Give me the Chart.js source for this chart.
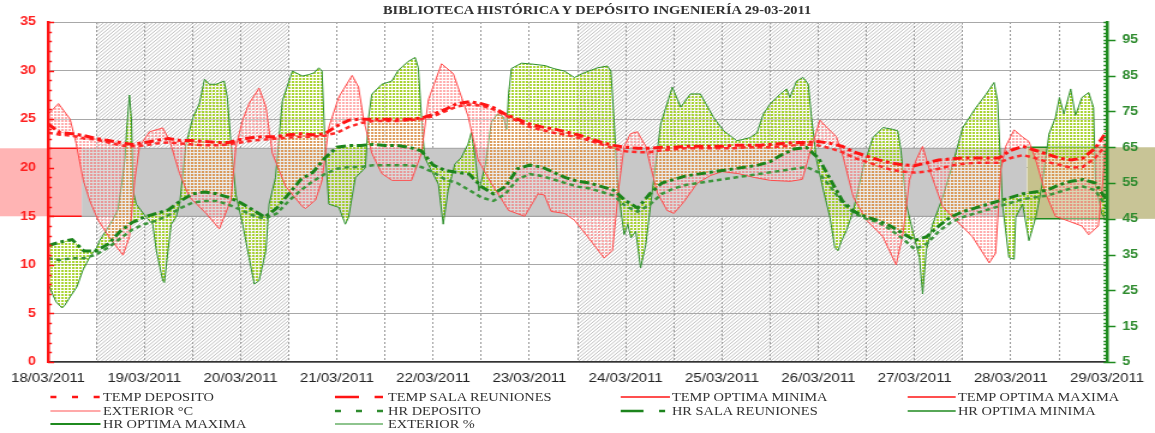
<!DOCTYPE html>
<html><head><meta charset="utf-8">
<script src="https://cdn.jsdelivr.net/npm/chart.js@4.4.1/dist/chart.umd.min.js"></script>
<style>
html,body{margin:0;padding:0;background:#fff;overflow:hidden;width:1155px;height:433px}
#stage{position:absolute;left:0;top:0;width:962px;height:433px;transform:scaleX(1.2006);transform-origin:0 0}
#wrap{position:absolute;left:0;top:0;width:962px;height:433px}
.t{position:absolute;font-family:"Liberation Serif","Times New Roman",serif;color:#333;white-space:nowrap}
#title{font-weight:bold;font-size:12px;line-height:13px;left:319px;top:4px}
.lg{font-size:12px;line-height:14px}
svg.s{position:absolute;overflow:visible}
</style></head><body>
<div id="stage">
  <div id="wrap"><canvas id="c"></canvas></div>
  <div id="title" class="t">BIBLIOTECA HISTÓRICA Y DEPÓSITO INGENIERÍA 29-03-2011</div>
  <div id="legend"></div>
</div>
<script>
// ---------- DATA (hours counted from 18/03/2011 00:00) ----------
const DAY_LABELS = ['18/03/2011','19/03/2011','20/03/2011','21/03/2011','22/03/2011','23/03/2011','24/03/2011','25/03/2011','26/03/2011','27/03/2011','28/03/2011','29/03/2011'];
const X_TICK_HOURS = [0,12,24,36,48,60,72,84,96,108,120,132,144,156,168,180,192,204,216,228,240,252,264];
const Y_RIGHT_TICKS = [5,15,25,35,45,55,65,75,85,95];

const HOURS = [0,3,6,9,12,15,18,21,24,27,30,33,36,39,42,45,48,51,54,57,60,63,66,69,72,75,78,81,84,87,90,93,96,99,102,105,108,111,114,117,120,123,126,129,132,135,138,141,144,147,150,153,156,159,162,165,168,171,174,177,180,183,186,189,192,195,198,201,204,207,210,213,216,219,222,225,228,231,234,237,240,243,246,249,252,255,258,261,264];

const TEMP_SALA = [24.5,23.6,23.5,23.3,23.0,22.8,22.6,22.4,22.6,22.8,23.0,22.8,22.8,22.7,22.6,22.6,22.9,23.1,23.2,23.2,23.4,23.5,23.4,23.5,24.3,24.9,25.0,25.0,25.0,25.0,25.0,25.1,25.5,26.0,26.6,26.8,26.6,26.2,25.5,25.0,24.5,24.2,24.0,23.7,23.4,23.0,22.6,22.3,22.1,22.0,22.0,22.1,22.1,22.2,22.2,22.2,22.2,22.3,22.3,22.3,22.4,22.5,22.6,22.6,22.7,22.5,22.2,21.6,21.2,20.8,20.5,20.3,20.2,20.5,20.8,20.9,21.0,21.0,21.0,21.0,21.8,22.2,21.8,21.4,21.0,20.8,21.0,22.0,23.8];
const TEMP_DEPOSITO = [23.6,23.4,23.3,23.0,22.9,22.6,22.3,22.2,22.3,22.5,22.6,22.5,22.4,22.3,22.3,22.4,22.6,22.8,22.9,23.0,23.1,23.2,23.2,23.3,23.6,24.2,24.6,24.8,24.8,24.8,24.9,25.0,25.3,25.8,26.3,26.5,26.4,26.0,25.4,24.8,24.2,23.9,23.6,23.4,23.1,22.8,22.4,22.0,21.7,21.6,21.6,21.8,21.9,22.0,22.0,22.0,22.0,22.0,22.1,22.1,22.1,22.2,22.3,22.4,22.3,22.0,21.6,21.0,20.6,20.2,19.8,19.6,19.5,19.6,19.9,20.2,20.4,20.5,20.5,20.5,21.0,21.3,21.0,20.6,20.3,20.0,20.1,21.0,22.5];
const HR_SALA = [37.5,38.5,39.2,36,36,38,41.5,44,45.5,46.5,47.5,50,52,52.5,52,51,49.5,47.5,45.5,48,52,56,58,62,65,65.5,65.5,65.8,65.5,65.5,65,64,60,58.5,58,57.5,54,52,54,59,60,59.5,58,56.5,55.5,55,54,53,50,48,52,55,56,57,57.5,58,58.5,59,59.5,60,61,63,64.5,65,62,56,50,47,45.5,44.5,43,41,39,40,43,45.5,47,48,49,50,51,52,52.5,53,54.5,55.5,56,55,50];
const HR_DEPOSITO = [34,33.5,34,34,35,37,39.5,42,43.5,44.5,46,48,49.5,50,50,49,47.5,46,45,46.5,50,53,55.5,57.5,59,59.5,59.5,60,60,60,60,59.5,58,56,55,53,51,50,52,56,57.5,57,56,55,54,53.5,52.5,51.5,48.5,47,49,52,53.5,54.5,55,55.5,56,56.5,57,57.5,58,58.5,59,59.5,58,54,49.5,46.5,45,44,42,39.5,36.5,38,41.5,44,45.5,46.5,47.5,48.5,49.5,50.5,51,51.5,52.5,53.5,54,53,48];

const EXT_T_HOURS = [0,2.6,5.5,7,8.8,10.5,12.5,15,17,18.7,20.3,21.6,22.8,25.3,28.6,30.3,32.8,35.2,39.4,42.7,45.6,46.8,48.5,50.1,52.6,54.3,55.9,59.2,63.4,64.2,66.7,68.3,70,72.5,75.8,77.4,78.7,80.7,83.2,85.7,90.6,93.1,94.8,98.1,101,102.7,104.7,107.2,110.5,114.8,118.8,122.1,123.7,125.4,128.7,131.2,134.5,138.6,140.7,142.3,143.6,145.2,146.9,149,150.2,151.9,154.3,156,158.5,161.8,165.1,168,172,176,180,185,188,190.3,192.4,194,196.5,198.2,200.7,204,208.1,211.4,213.1,214.7,216.4,218,219.7,223,226.3,230.4,234.6,236.2,237.5,238.7,240.8,242.8,244.5,246.2,248.6,251.1,254.4,257.7,259.4,261.8,263,264];
const EXT_T = [25.5,26.6,25.0,22.5,18.7,16.5,14.6,13.0,11.9,11.0,12.9,18.7,22.2,23.7,24.1,22.8,19.4,17.0,15.3,13.7,16.7,22.1,24.9,26.6,28.2,26.3,21.5,18.1,16.0,15.8,16.7,18.7,24.2,27.3,29.5,28.3,24.9,21.5,19.4,18.7,18.7,21.5,27.0,30.7,29.7,27.7,25.3,20.8,18.4,15.6,15.0,17.3,17.2,15.5,15.3,14.6,12.9,10.7,11.5,18.1,22.2,23.5,23.7,22.2,20.1,17.4,15.6,15.3,16.5,18.4,19.2,19.6,19.4,19.0,18.7,18.6,18.8,22.1,24.9,24.2,23.2,21.1,17.0,14.6,12.9,10.0,13.2,18.7,20.8,22.2,19.8,16.0,14.6,12.9,10.2,11.2,19.8,22.2,23.9,23.2,22.7,20.8,17.4,15.0,14.5,14.0,13.1,14.0,19.0,24.0];

const EXT_H_HOURS = [0,1,2,3.5,4.2,5.5,7.2,8.7,10.4,12.2,12.9,14.6,16.1,17.4,18.4,19.2,19.6,20.3,20.8,21.2,22,24.5,26.1,27,28.6,29,29.9,30.7,31.9,32.8,34.4,36.1,37.7,39,40.2,41.9,43.9,44.7,45.6,46.8,48.5,50.1,51.4,52.6,54.3,55.1,56.7,58.4,60.9,63.4,65,66.3,67.5,68.3,69.1,70,72.5,74.1,74.9,76.6,79.1,79.9,80.7,83.2,85.7,87.3,89.8,91.5,92.3,93.1,93.9,95.6,97.3,98.1,98.5,99.7,101.4,103,104.7,105.5,106.5,107.4,109,110.5,112,113.5,114.3,114.8,115.5,118,121,124,126,128.7,131.2,133.6,137,139.4,140.3,141.1,142,143.6,144.5,145.3,146.5,147.7,149,150.2,152.7,155.6,157.7,160.1,162.6,165.9,168.4,171.7,175,176.7,178.3,180,182.5,184.1,184.9,186.6,188.2,189.5,190.3,191.6,193.3,194.9,196.1,196.9,197.8,199,200.7,203.2,205.6,208.1,210.6,211.8,212.6,213.9,215.5,217.2,218,218.9,220.5,223,225.5,228,231.3,233.8,235.8,236.7,237.9,239.5,240.8,241.2,242.9,244.5,246.2,247.8,249.5,251.1,252.1,253.2,254.9,256.1,257.7,259.4,260.6,261.1,262.7,263.9];
const EXT_H = [27,24.3,21.8,20.1,20.9,23.2,26,30.7,34.3,37.1,39,41.9,44.7,47.5,55,62,70,79.6,72.6,52.8,49.1,45.4,43.5,36.1,27.7,27.2,36.1,43.5,45.4,49.1,65.9,73.3,77.1,84,82.6,82.6,83.5,78.9,65.9,51.9,43.5,34.2,26.8,27.7,36.1,49.1,56.5,77.9,86.3,84.9,85.3,85.8,87.2,86.3,64,49.1,48.2,43.5,45.4,56.5,59.3,73.3,79.8,82.6,83.5,86.5,89,90.1,87.2,73.3,62.1,58.4,54.7,47.2,43.5,52.8,60.3,62.1,65.9,69.1,62,52.8,60,72,74.3,73.5,70,80,87,88.5,88.2,87.8,87,86.3,84.5,85.8,87.2,87.7,86.3,72.4,53.8,40.6,43.5,39.7,41.5,31.3,37.8,49,71.5,81.8,76.2,79.9,79.9,73.3,69.6,66.8,67.7,69,74.3,77.1,79.9,81.3,78.9,83.5,84.5,82.6,73.3,61.2,52.8,45.4,37,36.1,38.9,41.7,47.2,59.4,67.7,70.5,70,69.6,64,49.1,41.7,34.2,24,36.1,43.5,51,60.3,70.5,76.1,79.8,83.1,77.9,49.1,34.2,33.7,45.4,49.1,38.9,45.4,54.7,68.7,73.3,78.9,74.3,81.3,73.9,78.9,80.3,76.1,54.7,46.3,44.4];

// optimum limits and their time spans
const TEMP_OPT_MIN = [15, 15];
const TEMP_OPT_MAX = [22, 22];
const TEMP_OPT_HOURS = [0, 8.4];
const HR_OPT_MIN = [45, 45];
const HR_OPT_MAX = [65, 65];
const HR_OPT_HOURS = [244, 264];
const BAND_LOW = [15, 15];
const BAND_HIGH = [22, 22];
const BAND_HOURS = [8.4, 244];
// hatched (non-working) periods
const HATCH_HOURS = [[12, 60], [132, 228]];

// ---------- helpers ----------
const pts = (xs, ys) => xs.map((h, i) => ({x: h, y: ys[i]}));
function pattern(dot, gap) {
  const c = document.createElement('canvas'); c.width = 3; c.height = 3;
  const g = c.getContext('2d');
  g.fillStyle = gap; g.fillRect(0, 0, 3, 3);
  g.clearRect(0, 0, 2, 2);
  g.fillStyle = dot; g.fillRect(0, 0, 2, 2);
  return g.createPattern(c, 'repeat');
}
const RED = '#ff1414', GREEN = '#1f8a1f';
const redPat = pattern('rgba(255,120,120,0.6)', 'rgba(255,255,255,0.35)');
const grnPat = pattern('rgba(155,205,15,0.85)', 'rgba(255,255,255,0.45)');

const decor = {
  id: 'decor',
  beforeDraw(chart) {
    const {ctx, chartArea: a, scales: {x, y, y1}} = chart;
    ctx.save();
    ctx.fillStyle = '#ffb4b4';
    const t1 = y.getPixelForValue(TEMP_OPT_MAX[0]), t2 = y.getPixelForValue(TEMP_OPT_MIN[0]);
    ctx.fillRect(0, t1, a.left, t2 - t1);
    ctx.fillStyle = '#c8c496';
    const h1 = y1.getPixelForValue(HR_OPT_MAX[0]), h2 = y1.getPixelForValue(HR_OPT_MIN[0]);
    ctx.fillRect(a.right, h1, chart.width - a.right, h2 - h1);
    ctx.strokeStyle = 'rgba(140,140,140,0.7)';
    ctx.lineWidth = 0.8;
    for (const [ha, hb] of HATCH_HOURS) {
      const xa = x.getPixelForValue(ha), xb = x.getPixelForValue(hb);
      ctx.save();
      ctx.beginPath(); ctx.rect(xa, a.top, xb - xa, a.height); ctx.clip();
      ctx.beginPath();
      for (let s = xa - a.height; s < xb; s += 3.4) {
        ctx.moveTo(s, a.bottom); ctx.lineTo(s + a.height, a.top);
      }
      ctx.stroke();
      ctx.restore();
    }
    ctx.restore();
  },
  afterDraw(chart) {
    const {ctx, chartArea: a, scales: {y, y1}} = chart;
    ctx.save();
    ctx.lineWidth = 1.3;
    ctx.strokeStyle = RED;
    ctx.beginPath();
    for (let v = y.min; v <= y.max; v += 1) {
      const py = Math.round(y.getPixelForValue(v)) + 0.5;
      ctx.moveTo(a.left, py); ctx.lineTo(a.left + (v % 5 === 0 ? 5 : 3.2), py);
    }
    ctx.stroke();
    ctx.strokeStyle = GREEN;
    ctx.beginPath();
    for (let v = y1.min; v <= y1.max; v += 1) {
      const py = Math.round(y1.getPixelForValue(v)) + 0.5;
      ctx.moveTo(a.right - 3, py); ctx.lineTo(a.right, py);
    }
    for (const v of Y_RIGHT_TICKS) {
      const py = Math.round(y1.getPixelForValue(v)) + 0.5;
      ctx.moveTo(a.right - 2.5, py); ctx.lineTo(a.right + 7, py);
    }
    ctx.stroke();
    ctx.restore();
  }
};

const line = (o) => Object.assign({pointRadius: 0, tension: 0, fill: false, borderCapStyle: 'butt'}, o);

const datasets = [
  line({label: 'TEMP SALA REUNIONES', data: pts(HOURS, TEMP_SALA), yAxisID: 'y', borderColor: RED, borderWidth: 3, borderDash: [8, 3, 3, 3]}),
  line({label: 'TEMP DEPOSITO', data: pts(HOURS, TEMP_DEPOSITO), yAxisID: 'y', borderColor: '#ff2a2a', borderWidth: 2.5, borderDash: [4, 3]}),
  line({label: 'HR SALA REUNIONES', data: pts(HOURS, HR_SALA), yAxisID: 'y1', borderColor: '#1c841c', borderWidth: 3, borderDash: [8, 3, 3, 3]}),
  line({label: 'HR DEPOSITO', data: pts(HOURS, HR_DEPOSITO), yAxisID: 'y1', borderColor: '#3c963c', borderWidth: 2.5, borderDash: [4, 3]}),
  line({label: 'EXTERIOR °C', data: pts(EXT_T_HOURS, EXT_T), yAxisID: 'y', borderColor: '#ff4a4a', borderWidth: 1, fill: 0, backgroundColor: redPat}),
  line({label: 'EXTERIOR %', data: pts(EXT_H_HOURS, EXT_H), yAxisID: 'y1', borderColor: '#2d8f2d', borderWidth: 1, fill: 2, backgroundColor: grnPat}),
  line({label: 'TEMP OPTIMA MINIMA', data: pts(TEMP_OPT_HOURS, TEMP_OPT_MIN), yAxisID: 'y', borderColor: RED, borderWidth: 1.5}),
  line({label: 'TEMP OPTIMA MAXIMA', data: pts(TEMP_OPT_HOURS, TEMP_OPT_MAX), yAxisID: 'y', borderColor: RED, borderWidth: 1.5, fill: 6, backgroundColor: '#ffb4b4'}),
  line({label: 'HR OPTIMA MINIMA', data: pts(HR_OPT_HOURS, HR_OPT_MIN), yAxisID: 'y1', borderColor: GREEN, borderWidth: 1.5}),
  line({label: 'HR OPTIMA MAXIMA', data: pts(HR_OPT_HOURS, HR_OPT_MAX), yAxisID: 'y1', borderColor: GREEN, borderWidth: 1.5, fill: 8, backgroundColor: '#c6c28c'}),
  line({label: 'band low', data: pts(BAND_HOURS, BAND_LOW), yAxisID: 'y', borderColor: '#a0a0a0', borderWidth: 1}),
  line({label: 'band high', data: pts(BAND_HOURS, BAND_HIGH), yAxisID: 'y', borderColor: '#a0a0a0', borderWidth: 1, fill: 10, backgroundColor: '#c8c8c8'})
];

new Chart(document.getElementById('c'), {
  type: 'line',
  data: {datasets},
  plugins: [decor],
  options: {
    responsive: true, maintainAspectRatio: false, animation: false, events: [],
    layout: {padding: {top: 22, left: 0, right: 0, bottom: 0}},
    plugins: {legend: {display: false}, title: {display: false}, tooltip: {enabled: false}},
    scales: {
      x: {
        type: 'linear', min: 0, max: 264, offset: false,
        afterBuildTicks: (s) => { s.ticks = X_TICK_HOURS.map(v => ({value: v})); },
        afterFit: (s) => { s.height = 71; },
        ticks: {autoSkip: false, maxRotation: 0, padding: 9, color: '#222',
          font: {family: 'Liberation Sans', size: 12.5},
          callback: (v) => (v % 24 === 0 ? DAY_LABELS[v / 24] : '')},
        grid: {color: '#9a9a9a', lineWidth: 1, drawTicks: false},
        border: {color: '#333', width: 1.5, dash: [2, 2], z: 1}
      },
      y: {
        position: 'left', min: 0, max: 35,
        ticks: {stepSize: 5, padding: 10, color: '#ff2020', font: {family: 'Liberation Sans', size: 12, weight: 'bold'}},
        afterFit: (s) => { s.width = 40; },
        grid: {color: '#a8a8a8', lineWidth: 1, drawTicks: false},
        border: {color: RED, width: 2.5, z: 1}
      },
      y1: {
        position: 'right', min: 5, max: 100,
        afterBuildTicks: (s) => { s.ticks = Y_RIGHT_TICKS.map(v => ({value: v})); },
        afterFit: (s) => { s.width = 35.8; },
        ticks: {autoSkip: false, padding: 12.5, color: '#2e8b2e', font: {family: 'Liberation Sans', size: 12, weight: 'bold'}},
        grid: {display: false, drawTicks: false},
        border: {color: GREEN, width: 2.5, z: 1}
      }
    }
  }
});

// ---------- legend (HTML) ----------
const LEGEND = [
  {label: 'TEMP DEPOSITO', color: RED, w: 2.5, dash: '5 13'},
  {label: 'TEMP SALA REUNIONES', color: RED, w: 2.5, dash: '20 13 7 60'},
  {label: 'TEMP OPTIMA MINIMA', color: RED, w: 1.5, dash: ''},
  {label: 'TEMP OPTIMA MAXIMA', color: RED, w: 1.5, dash: ''},
  {label: 'EXTERIOR °C', color: '#ff8c8c', w: 1.3, dash: ''},
  {label: 'HR DEPOSITO', color: '#2e8b2e', w: 2.5, dash: '5 12.5'},
  {label: 'HR SALA REUNIONES', color: '#1c841c', w: 2.5, dash: '19 13 5 60'},
  {label: 'HR OPTIMA MINIMA', color: GREEN, w: 1.5, dash: ''},
  {label: 'HR OPTIMA MAXIMA', color: GREEN, w: 2, dash: ''},
  {label: 'EXTERIOR %', color: GREEN, w: 1, dash: ''}
];
const COLS = [{s: 41.6, e: 83.3, t: 85.8}, {s: 279, e: 319, t: 323.2}, {s: 517, e: 558, t: 559.7}, {s: 755.5, e: 795.5, t: 797.9}];
const ROWS = [397, 411, 424];
const lg = document.getElementById('legend');
LEGEND.forEach((it, i) => {
  const c = COLS[i % 4], r = ROWS[Math.floor(i / 4)];
  const w = c.e - c.s;
  const svg = document.createElementNS('http://www.w3.org/2000/svg', 'svg');
  svg.setAttribute('class', 's');
  svg.setAttribute('width', w); svg.setAttribute('height', 10);
  svg.style.left = c.s + 'px'; svg.style.top = (r - 5) + 'px';
  const ln = document.createElementNS('http://www.w3.org/2000/svg', 'line');
  ln.setAttribute('x1', 0); ln.setAttribute('x2', w); ln.setAttribute('y1', 5); ln.setAttribute('y2', 5);
  ln.setAttribute('stroke', it.color); ln.setAttribute('stroke-width', it.w);
  if (it.dash) ln.setAttribute('stroke-dasharray', it.dash);
  svg.appendChild(ln); lg.appendChild(svg);
  const d = document.createElement('div');
  d.className = 't lg'; d.textContent = it.label;
  d.style.left = c.t + 'px'; d.style.top = (r - 7.1) + 'px';
  lg.appendChild(d);
});
</script>
</body></html>
